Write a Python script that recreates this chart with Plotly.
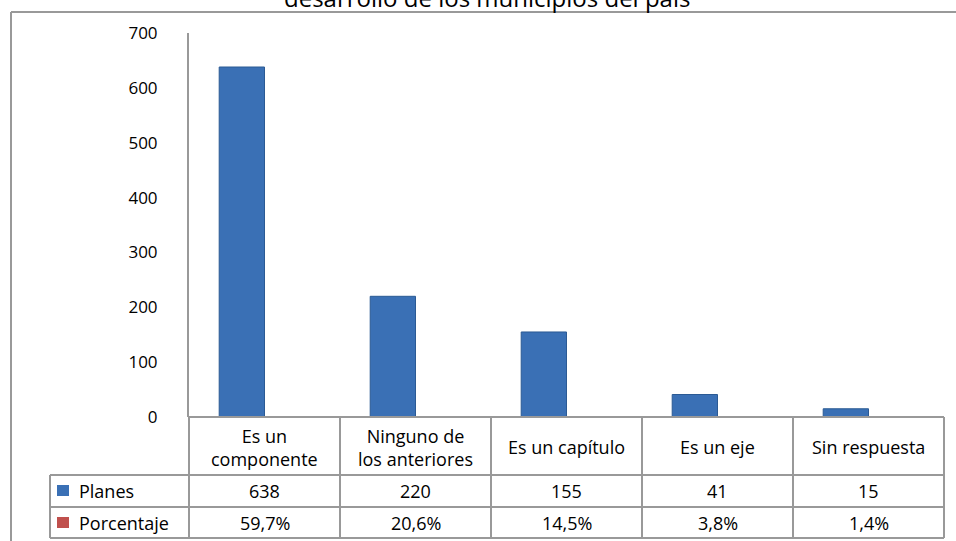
import plotly.graph_objects as go

categories = ["Es un componente", "Ninguno de los anteriores", "Es un capítulo", "Es un eje", "Sin respuesta"]
category_labels = ["Es un<br>componente", "Ninguno de<br>los anteriores", "Es un capítulo", "Es un eje", "Sin respuesta"]
planes = [638, 220, 155, 41, 15]
porcentaje = [0.597, 0.206, 0.145, 0.038, 0.014]
porcentaje_labels = ["59,7%", "20,6%", "14,5%", "3,8%", "1,4%"]
y_ticks = [0, 100, 200, 300, 400, 500, 600, 700]
title_text = "desarrollo de los municipios del país"

W, H = 956, 541
FONT = "Open Sans, Noto Sans, sans-serif"
GRID = "#999999"

def px(x):
    return x / W

def py(y):
    return 1 - y / H

x0, x1 = 189, 944
y_top, y_bot = 33, 417

fig = go.Figure()
fig.add_trace(go.Bar(x=categories, y=planes, name="Planes",
                     marker=dict(color="#3A70B5", line=dict(color="#2B5A94", width=1))))
fig.add_trace(go.Bar(x=categories, y=porcentaje, name="Porcentaje",
                     marker=dict(color="#C0504D", line=dict(color="#C0504D", width=1.5))))

fig.update_layout(
    width=W, height=H,
    margin=dict(l=0, r=0, t=0, b=0, autoexpand=False),
    paper_bgcolor="white", plot_bgcolor="white",
    barmode="group", bargap=0.4, bargroupgap=0,
    showlegend=False,
    font=dict(family=FONT, size=18, color="black"),
    xaxis=dict(domain=[px(x0), px(x1)], showticklabels=False, showgrid=False,
               zeroline=False, showline=False, fixedrange=True, automargin=False),
    yaxis=dict(domain=[py(y_bot), py(y_top)], range=[0, 700], tickvals=y_ticks,
               showgrid=False, zeroline=False, showline=True, linecolor=GRID,
               linewidth=2, ticks="", ticklabelstandoff=26, automargin=False,
               tickfont=dict(size=17, family=FONT), fixedrange=True),
)

shapes = []
def line(xa, ya, xb, yb):
    shapes.append(dict(type="line", xref="paper", yref="paper",
                       x0=px(xa), y0=py(ya), x1=px(xb), y1=py(yb),
                       line=dict(color=GRID, width=2)))

# outer frame
line(11, 12, 956, 12)
line(11, 12, 11, 541)

# table grid
r0, r1, r2, r3 = 417, 475, 507, 538
line(x0, r0, x1, r0)
line(50, r1, x1, r1)
line(50, r2, x1, r2)
line(50, r3, x1, r3)
line(50, r1, 50, r3)
n = len(categories)
cw = (x1 - x0) / n
for i in range(n + 1):
    xx = x0 + i * cw
    line(xx, r0, xx, r3)

# legend keys
shapes.append(dict(type="rect", xref="paper", yref="paper",
                   x0=px(57), x1=px(69), y0=py(496), y1=py(485),
                   fillcolor="#3A70B5", line=dict(width=0)))
shapes.append(dict(type="rect", xref="paper", yref="paper",
                   x0=px(57), x1=px(69), y0=py(528), y1=py(517),
                   fillcolor="#C0504D", line=dict(width=0)))
fig.update_layout(shapes=shapes)

ann = []
def text(x, y, s, xanchor="center", size=18):
    ann.append(dict(x=px(x), y=py(y), xref="paper", yref="paper", text=s,
                    showarrow=False, xanchor=xanchor, yanchor="middle",
                    font=dict(size=size, family=FONT, color="black")))

for i in range(n):
    cx = x0 + (i + 0.5) * cw
    text(cx, (r0 + r1) / 2 + 1, category_labels[i])
    text(cx, (r1 + r2) / 2, str(planes[i]))
    text(cx, (r2 + r3) / 2, porcentaje_labels[i])

text(77, (r1 + r2) / 2, "Planes", xanchor="left")
text(77, (r2 + r3) / 2, "Porcentaje", xanchor="left")

ann.append(dict(x=px(487), y=py(-2), xref="paper", yref="paper", text=title_text,
                showarrow=False, xanchor="center", yanchor="middle",
                font=dict(size=24, family=FONT, color="black")))
fig.update_layout(annotations=ann)

fig.write_html("out.html", config={"displayModeBar": False},
               post_script="document.body.style.margin='0';")
